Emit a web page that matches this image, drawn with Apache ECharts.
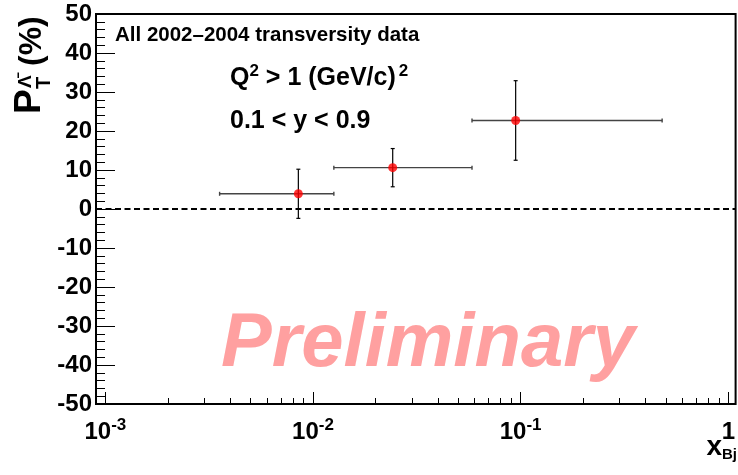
<!DOCTYPE html>
<html>
<head>
<meta charset="utf-8">
<script src="https://cdn.jsdelivr.net/npm/echarts@6/dist/echarts.min.js"></script>
<style>
html, body { margin: 0; padding: 0; background: #fff; }
#main { width: 738px; height: 475px; }
</style>
</head>
<body>
<div id="main"></div>
<script>
// data
const xCenters = [0.0085, 0.0242, 0.0946];
const xLow = [0.00355, 0.0126, 0.0583];
const xHigh = [0.0126, 0.0583, 0.48];
const yValues = [3.9, 10.6, 22.7];
const yErrors = [6.3, 4.9, 10.2];

// axis ticks
const xMajorTicks = [0.001, 0.01, 0.1, 1];
const xMinorTicks = [
    0.002, 0.003, 0.004, 0.005, 0.006, 0.007, 0.008, 0.009,
    0.02, 0.03, 0.04, 0.05, 0.06, 0.07, 0.08, 0.09,
    0.2, 0.3, 0.4, 0.5, 0.6, 0.7, 0.8, 0.9
];
const xMin = Math.pow(10, -3.045);
const xMax = Math.pow(10, 0.035);
const yMin = -50, yMax = 50, yStep = 10;

const FONT = 'Liberation Sans';
const chart = echarts.init(document.querySelector('#main'));

const errData = xCenters.map((x, i) => [x, yValues[i], xLow[i], xHigh[i], yErrors[i]]);
const ptData = xCenters.map((x, i) => [x, yValues[i]]);

function renderErr(params, api) {
    const x = api.value(0), y = api.value(1);
    const xl = api.value(2), xh = api.value(3), e = api.value(4);
    const l = api.coord([xl, y]);
    const r = api.coord([xh, y]);
    const t = api.coord([x, y + e]);
    const b = api.coord([x, y - e]);
    const hs = { stroke: '#444', lineWidth: 1.4 };
    const vs = { stroke: '#000', lineWidth: 1.2 };
    return {
        type: 'group',
        children: [
            { type: 'line', shape: { x1: l[0], y1: l[1], x2: r[0], y2: r[1] }, style: hs },
            { type: 'line', shape: { x1: l[0], y1: l[1] - 2, x2: l[0], y2: l[1] + 2 }, style: hs },
            { type: 'line', shape: { x1: r[0], y1: r[1] - 2, x2: r[0], y2: r[1] + 2 }, style: hs },
            { type: 'line', shape: { x1: t[0], y1: t[1], x2: b[0], y2: b[1] }, style: vs },
            { type: 'line', shape: { x1: t[0] - 2, y1: t[1], x2: t[0] + 2, y2: t[1] }, style: vs },
            { type: 'line', shape: { x1: b[0] - 2, y1: b[1], x2: b[0] + 2, y2: b[1] }, style: vs }
        ]
    };
}

let option = {
    animation: false,
    backgroundColor: '#fff',
    grid: {
        left: 96, top: 14, width: 640, height: 390,
        show: true, borderColor: '#000', borderWidth: 2
    },
    xAxis: [
        {
            type: 'log', logBase: 10, min: xMin, max: xMax, position: 'bottom',
            axisLine: { show: false, onZero: false },
            splitLine: { show: false },
            axisTick: { inside: true, length: 12, customValues: xMajorTicks, lineStyle: { color: '#000', width: 1 } },
            axisLabel: {
                customValues: xMajorTicks,
                margin: 13,
                formatter: (v) => {
                    if (Math.abs(v - 1) < 1e-9) return '{b|1}';
                    return '{b|10}{s|' + Math.round(Math.log10(v)) + '}';
                },
                rich: {
                    b: { fontFamily: FONT, fontWeight: 'bold', fontSize: 24, lineHeight: 30, color: '#000' },
                    s: { fontFamily: FONT, fontWeight: 'bold', fontSize: 17, lineHeight: 15, verticalAlign: 'top', color: '#000' }
                }
            }
        },
        {
            type: 'log', logBase: 10, min: xMin, max: xMax, position: 'bottom',
            axisLine: { show: false, onZero: false },
            splitLine: { show: false },
            axisLabel: { show: false },
            axisTick: { show: true, inside: true, length: 6, customValues: xMinorTicks, lineStyle: { color: '#000', width: 1 } }
        }
    ],
    yAxis: {
        type: 'value', min: yMin, max: yMax, interval: yStep,
        axisLine: { show: false, onZero: false },
        splitLine: { show: false },
        axisTick: { inside: true, length: 19, lineStyle: { color: '#000', width: 1 } },
        minorTick: { show: true, splitNumber: 5, length: 9, lineStyle: { color: '#000', width: 1 } },
        axisLabel: { margin: 4, fontFamily: FONT, fontWeight: 'bold', fontSize: 24, color: '#000' }
    },
    series: [
        {
            type: 'custom',
            renderItem: renderErr,
            data: errData,
            encode: { x: [0, 2, 3], y: 1 },
            z: 3,
            markLine: {
                silent: true,
                symbol: 'none',
                label: { show: false },
                lineStyle: { type: [6, 3.5], color: '#000', width: 2.2 },
                data: [{ yAxis: 0 }]
            }
        },
        {
            type: 'scatter',
            data: ptData,
            symbol: 'circle',
            symbolSize: 9,
            itemStyle: { color: '#ff0000' },
            z: 5
        }
    ],
    graphic: [
        {
            type: 'text', left: 115, top: 25,
            style: { text: 'All 2002\u20132004 transversity data', font: 'bold 20.5px ' + FONT, fill: '#000' }
        },
        {
            type: 'text', x: 230, y: 63,
            style: {
                text: '{b|Q}{s|2}{b| > 1 (GeV/c)}{t|2}',
                verticalAlign: 'top',
                rich: {
                    b: { fontFamily: FONT, fontWeight: 'bold', fontSize: 25, lineHeight: 30, fill: '#000' },
                    s: { fontFamily: FONT, fontWeight: 'bold', fontSize: 17, lineHeight: 16, verticalAlign: 'top', fill: '#000' },
                    t: { fontFamily: FONT, fontWeight: 'bold', fontSize: 17, lineHeight: 16, verticalAlign: 'top', fill: '#000', padding: [0, 0, 0, 3] }
                }
            }
        },
        {
            type: 'text', x: 230, y: 121.3,
            style: { text: '0.1 < y < 0.9', font: 'bold 25px ' + FONT, fill: '#000', verticalAlign: 'middle' }
        },
        {
            type: 'text', x: 221, y: 345,
            style: { text: 'Preliminary', font: 'italic bold 76px ' + FONT, fill: '#ffa0a0', verticalAlign: 'middle' }
        },
        {
            type: 'text', x: 737, y: 432,
            style: {
                text: '{x|x}{s|Bj}',
                align: 'right', verticalAlign: 'top',
                rich: {
                    x: { fontFamily: FONT, fontWeight: 'bold', fontSize: 28, lineHeight: 30, fill: '#000' },
                    s: { fontFamily: FONT, fontWeight: 'bold', fontSize: 15, lineHeight: 15, verticalAlign: 'bottom', fill: '#000' }
                }
            }
        },
        {
            type: 'group', x: 43, y: 114, rotation: Math.PI / 2,
            children: [
                { type: 'text', x: 0, y: -13, style: { text: 'P', font: 'bold 37px ' + FONT, fill: '#000', verticalAlign: 'middle' } },
                { type: 'text', x: 25, y: 1, style: { text: 'T', font: 'bold 20px ' + FONT, fill: '#000', verticalAlign: 'middle' } },
                { type: 'text', x: 26, y: -17, style: { text: '\u039B\u0304', font: 'bold 19px ' + FONT, fill: '#000', verticalAlign: 'middle' } },
                { type: 'text', x: 48, y: -11, style: { text: '(%)', font: 'bold 32px ' + FONT, fill: '#000', verticalAlign: 'middle' } }
            ]
        }
    ]
};

chart.setOption(option);
</script>
</body>
</html>
